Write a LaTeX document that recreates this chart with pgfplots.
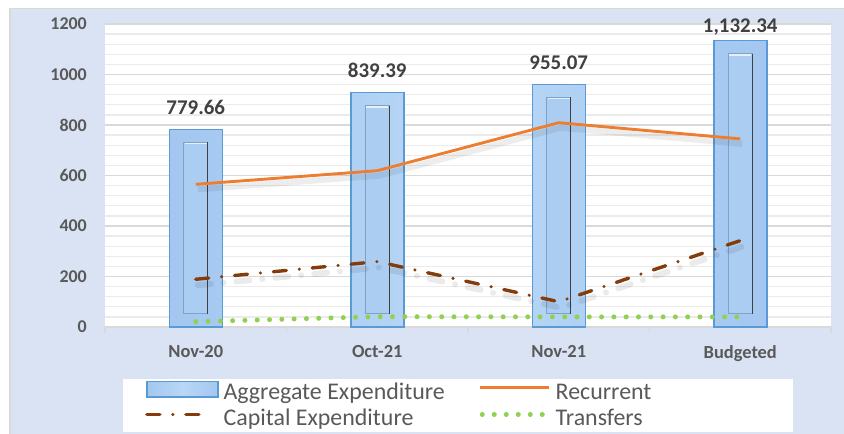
\documentclass[border=0pt]{standalone}
\usepackage{pgfplots}
\pgfplotsset{compat=1.18}
\usepackage{pgfplotstable}
\usepackage{fontspec}
\setmainfont{Carlito}
\definecolor{panel}{HTML}{DAE3F3}
\definecolor{barfill}{HTML}{A3C7F0}
\definecolor{barlight}{HTML}{B9D7F6}
\definecolor{baredge}{HTML}{5B9BD5}
\definecolor{innerfill}{HTML}{ACCDF2}
\definecolor{inneredge}{HTML}{7FA2CB}
\definecolor{recur}{HTML}{ED7D31}
\definecolor{capex}{HTML}{843C0C}
\definecolor{transf}{HTML}{92D050}
\definecolor{lbl}{HTML}{595959}
\definecolor{dlbl}{HTML}{404040}
\definecolor{majgrid}{HTML}{D9D9D9}
\definecolor{mingrid}{HTML}{EBEBEB}

\pgfplotstableread{
x y label shift
0 783 779.66 15
1 929 839.39 15
2 961 955.07 15
3 1134 {1,132.34} 7.7
}\aggtable

\begin{document}
\begin{tikzpicture}
\useasboundingbox (0,0) rectangle (844bp,434bp);
\fill[white] (0,0) rectangle (844bp,434bp);
\fill[panel] (10bp,0) rectangle (844bp,425.5bp);
\draw[black!15, line width=1.5bp] (10bp,0) -- (10bp,425.5bp) -- (844bp,425.5bp);
\fill[white] (123bp,2bp) rectangle (793bp,55bp);
\begin{axis}[
  at={(105bp,107bp)}, anchor=south west,
  scale only axis, width=726bp, height=303bp,
  xmin=-0.5, xmax=3.5, ymin=0, ymax=1200,
  axis background/.style={fill=white},
  axis x line*=bottom, axis y line*=left,
  x axis line style={majgrid, line width=1.5bp},
  y axis line style={draw=none},
  xtick={0,1,2,3},
  xticklabels={Nov-20,Oct-21,Nov-21,Budgeted},
  minor xtick={-0.5,0.5,1.5,2.5,3.5},
  ytick={0,200,400,600,800,1000,1200},
  yticklabels={0,200,400,600,800,1000,1200},
  minor y tick num=4,
  ymajorgrids, yminorgrids,
  major grid style={majgrid, line width=1.3bp},
  minor grid style={mingrid, line width=1.3bp},
  major tick length=0pt, minor tick length=6bp,
  tick align=outside,
  ytick style={draw=none},
  every minor x tick/.append style={majgrid, line width=1.3bp},
  /pgf/number format/assume math mode=true,
  yticklabel style={font=\bfseries\fontsize{18}{20}\selectfont, text=lbl, inner sep=0pt, xshift=-18bp},
  xticklabel style={font=\bfseries\fontsize{18.5}{20}\selectfont, text=lbl, inner sep=0pt, yshift=-18bp},
  legend columns=2,
  legend cell align=left,
  legend style={draw=none, fill=none, at={(0.0551,-0.1760)}, anchor=north west,
    inner sep=0pt, font=\fontsize{24}{26}\selectfont, text=lbl,
    nodes={inner sep=0pt, text height=15bp, text depth=4bp},
    row sep=7.2bp,
    /tikz/every odd column/.append style={column sep=5bp},
    /tikz/every even column/.append style={column sep=34bp}},
  clip=false,
]
\addplot[ybar, bar width=53bp, left color=barfill, right color=barfill, middle color=barlight, draw=baredge, line width=1.5bp,
  legend image code/.code={\draw[left color=barfill, right color=barfill, middle color=barlight, draw=baredge, line width=1.5bp] (0bp,-2.5bp) rectangle (71bp,13bp);},
  nodes near coords, point meta=explicit symbolic,
  visualization depends on={\thisrow{shift}\as\myshift},
  every node near coord/.append style={font=\bfseries\fontsize{21}{24}\selectfont, text=dlbl, anchor=base, inner sep=0pt, yshift=\myshift bp}]
  table[x=x, y=y, meta=label]{\aggtable};
\addlegendentry{Aggregate Expenditure}
% inner bevel rectangles
\addplot[forget plot, fill=innerfill, draw=inneredge, line width=1bp, mark=none, unbounded coords=jump] coordinates {
 (-0.066,52) (0.066,52) (0.066,731) (-0.066,731) (-0.066,52) (nan,nan)
 (0.934,52) (1.066,52) (1.066,877) (0.934,877) (0.934,52) (nan,nan)
 (1.934,52) (2.066,52) (2.066,909) (1.934,909) (1.934,52) (nan,nan)
 (2.934,52) (3.066,52) (3.066,1083) (2.934,1083) (2.934,52)};
\addplot[forget plot, draw=white!70!innerfill, line width=1.5bp, mark=none, unbounded coords=jump] coordinates {
 (-0.060,726) (0.060,726) (nan,nan)
 (0.940,872) (1.060,872) (nan,nan)
 (1.940,904) (2.060,904) (nan,nan)
 (2.940,1078) (3.060,1078)};
\addplot[forget plot, draw=black!75, line width=1.2bp, mark=none, unbounded coords=jump] coordinates {
 (0.066,52) (0.066,731) (nan,nan)
 (1.066,52) (1.066,877) (nan,nan)
 (2.066,52) (2.066,909) (nan,nan)
 (3.066,52) (3.066,1083)};
% soft shadows of the lines
\addplot[forget plot, black, opacity=0.07, line width=6bp, mark=none, transform canvas={xshift=2bp, yshift=-5bp}]
  coordinates {(0,565) (1,619) (2,809) (3,745)};
\addplot[forget plot, black, opacity=0.08, line width=6bp, mark=none, line cap=round, dash pattern=on 13bp off 13bp on 0bp off 13bp, transform canvas={xshift=2bp, yshift=-6bp}]
  coordinates {(0,189) (1,259) (2,100) (3,342)};
% lines
\addplot[recur, line width=2.9bp, mark=none,
  legend image code/.code={\draw[recur, line width=2.9bp] (0bp,7bp) -- (69bp,7bp);}]
  coordinates {(0,565) (1,619) (2,809) (3,745)};
\addlegendentry{Recurrent}
\addplot[capex, line width=3.4bp, line cap=round, mark=none, dash pattern=on 13bp off 13bp on 0bp off 13bp,
  legend image code/.code={\draw[capex, line width=3.4bp, line cap=round, dash pattern=on 13bp off 13bp on 0bp off 13bp] (0bp,6bp) -- (58bp,6bp);}]
  coordinates {(0,189) (1,259) (2,100) (3,342)};
\addlegendentry{Capital Expenditure}
\addplot[transf, line width=5bp, line cap=round, mark=none, dash pattern=on 0bp off 12.3bp,
  legend image code/.code={\draw[transf, line width=5bp, line cap=round, dash pattern=on 0bp off 12bp] (2bp,6bp) -- (62bp,6bp);}]
  coordinates {(0,21) (1,41) (2,40) (3,40)};
\addlegendentry{Transfers}
\end{axis}
\end{tikzpicture}
\end{document}
